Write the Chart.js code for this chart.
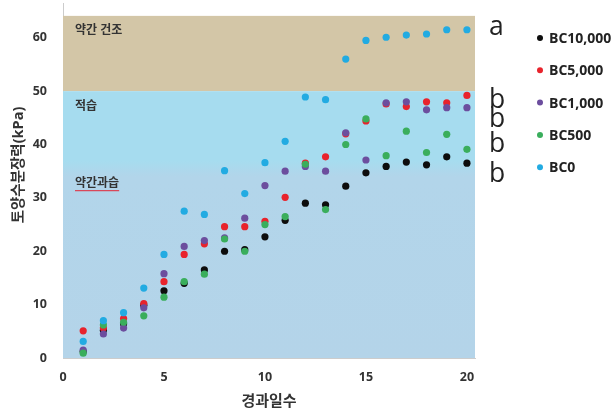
<!DOCTYPE html>
<html><head><meta charset="utf-8">
<script src="https://cdn.jsdelivr.net/npm/chart.js@4/dist/chart.umd.min.js"></script>
<style>html,body{margin:0;padding:0;background:#fff;}</style>
</head><body>
<canvas id="c" width="615" height="417"></canvas>
<script>
const days = [1,2,3,4,5,6,7,8,9,10,11,12,13,14,15,16,17,18,19,20];
const seriesNames = ['BC10,000','BC5,000','BC1,000','BC500','BC0'];
const bc10000 = [1.2,5.2,6.4,9.9,12.6,14.0,16.5,20.0,20.3,22.7,25.8,29.0,28.7,32.2,34.7,35.9,36.7,36.2,37.7,36.5];
const bc5000  = [5.1,5.6,7.4,10.2,14.3,19.4,21.4,24.6,24.6,25.6,30.1,36.5,37.7,42.0,44.4,47.6,47.1,48.0,47.8,49.2];
const bc1000  = [1.5,4.5,5.6,9.4,15.8,20.9,22.0,22.5,26.2,32.3,35.0,35.9,35.0,42.2,37.1,47.8,48.0,46.5,46.9,46.9];
const bc500   = [0.9,6.2,6.7,7.9,11.4,14.3,15.7,22.3,20.0,25.0,26.5,36.3,27.8,40.0,44.8,37.9,42.5,38.5,41.9,39.1];
const bc0     = [3.1,7.0,8.5,13.1,19.4,27.5,26.9,35.1,30.8,36.6,40.6,48.9,48.4,56.0,59.5,60.1,60.5,60.7,61.5,61.5];
const xTickLabels = [0,5,10,15,20];
const yTickLabels = [0,10,20,30,40,50,60];
const xTitle = '경과일수';
const yTitle = '토양수분장력(kPa)';
const zoneNames = ['약간 건조','적습','약간과습'];
const zoneTops = [64.1, 50, 35.5];
const zoneLabelValues = [60.7, 46.4, 32.0];
const groupLetters = ['a','b','b','b','b'];
const letterValues = [60.6, 46.9, 43.3, 38.6, 32.9];

const colors = ['#0d0d0d','#e8232c','#6c4e9e','#3aae5c','#22abe2'];
const allSeries = [bc10000, bc5000, bc1000, bc500, bc0];

const datasets = seriesNames.map((name, i) => ({
  label: name,
  data: days.map((d, k) => ({x: d, y: allSeries[i][k]})),
  backgroundColor: colors[i],
  borderWidth: 0,
  pointRadius: 3.6,
  pointHoverRadius: 3.6,
  order: seriesNames.length - i
}));

const FONT = "'Open Sans', 'Noto Sans CJK KR', sans-serif";

const bandsPlugin = {
  id: 'bands',
  beforeDatasetsDraw(chart) {
    const {ctx, chartArea: a, scales: {y}} = chart;
    const yTan = y.getPixelForValue(zoneTops[0]);
    const yCyan = y.getPixelForValue(zoneTops[1]);
    const yBlue = y.getPixelForValue(zoneTops[2]);
    ctx.save();
    ctx.fillStyle = '#d3c6a7';
    ctx.fillRect(a.left, yTan, a.right - a.left, yCyan - yTan);
    const g = ctx.createLinearGradient(0, yCyan, 0, a.bottom);
    const f = (yBlue - yCyan) / (a.bottom - yCyan);
    g.addColorStop(0, '#a6dcef');
    g.addColorStop(Math.max(0, f - 0.03), '#a6dcef');
    g.addColorStop(Math.min(1, f + 0.03), '#b2d5ea');
    g.addColorStop(1, '#b4d4e9');
    ctx.fillStyle = g;
    ctx.fillRect(a.left, yCyan, a.right - a.left, a.bottom - yCyan);
    ctx.restore();
  },
  afterDraw(chart) {
    const {ctx, chartArea: a, scales: {x, y}} = chart;
    ctx.save();
    // y axis title
    ctx.save();
    ctx.translate(19, 165);
    ctx.rotate(-Math.PI / 2);
    ctx.font = "bold 14.5px " + FONT;
    ctx.fillStyle = '#333';
    ctx.textAlign = 'center';
    ctx.textBaseline = 'middle';
    ctx.fillText(yTitle, 0, 0);
    ctx.restore();
    // zone labels
    ctx.font = "bold 12px " + FONT;
    ctx.fillStyle = '#333';
    ctx.textAlign = 'left';
    ctx.textBaseline = 'alphabetic';
    const lx = a.left + 12;
    zoneNames.forEach((t, i) => {
      ctx.fillText(t, lx, y.getPixelForValue(zoneLabelValues[i]));
    });
    const w = ctx.measureText(zoneNames[2]).width;
    const uy = y.getPixelForValue(zoneLabelValues[2]) + 3.5;
    ctx.strokeStyle = '#d9485a';
    ctx.lineWidth = 1.2;
    ctx.beginPath();
    ctx.moveTo(lx, uy);
    ctx.lineTo(lx + w, uy);
    ctx.stroke();
    // group letters
    ctx.font = "26.5px " + FONT;
    ctx.fillStyle = '#222';
    groupLetters.forEach((t, i) => {
      ctx.fillText(t, a.right + 14, y.getPixelForValue(letterValues[i]));
    });
    // legend
    ctx.font = "bold 14px " + FONT;
    ctx.textBaseline = 'middle';
    seriesNames.forEach((n, i) => {
      const cy = 38 + i * 32.3;
      ctx.beginPath();
      ctx.fillStyle = colors[i];
      ctx.arc(540, cy, 3, 0, Math.PI * 2);
      ctx.fill();
      ctx.fillStyle = '#222';
      ctx.fillText(n, 549, cy + 1);
    });
    ctx.restore();
  }
};

new Chart(document.getElementById('c'), {
  type: 'scatter',
  data: {datasets},
  plugins: [bandsPlugin],
  options: {
    responsive: false,
    animation: false,
    devicePixelRatio: 1,
    layout: {padding: {top: 3, right: 140, left: 0, bottom: 0}},
    plugins: {legend: {display: false}, tooltip: {enabled: false}},
    scales: {
      x: {
        type: 'linear', min: 0, max: 20.4,
        afterBuildTicks: s => { s.ticks = xTickLabels.map(v => ({value: v})); },
        afterFit: s => { s.height = 59; s.paddingLeft = 0; s.paddingRight = 0; },
        grid: {display: false},
        border: {display: true, color: '#cccccc', width: 1},
        ticks: {font: {family: FONT, size: 12.5, weight: 'bold'}, color: '#333', padding: 4},
        title: {display: true, text: xTitle, color: '#333',
          font: {family: FONT, size: 15, weight: 'bold'}, padding: {top: 0, bottom: 6}}
      },
      y: {
        type: 'linear', min: 0, max: 66.4,
        afterBuildTicks: s => { s.ticks = yTickLabels.map(v => ({value: v})); },
        afterFit: s => { s.width = 63; s.paddingTop = 0; s.paddingBottom = 0; },
        grid: {display: false},
        border: {display: true, color: '#cccccc', width: 1},
        ticks: {font: {family: FONT, size: 12.5, weight: 'bold'}, color: '#333', padding: 8},
        title: {display: false}
      }
    }
  }
});
</script>
</body></html>
